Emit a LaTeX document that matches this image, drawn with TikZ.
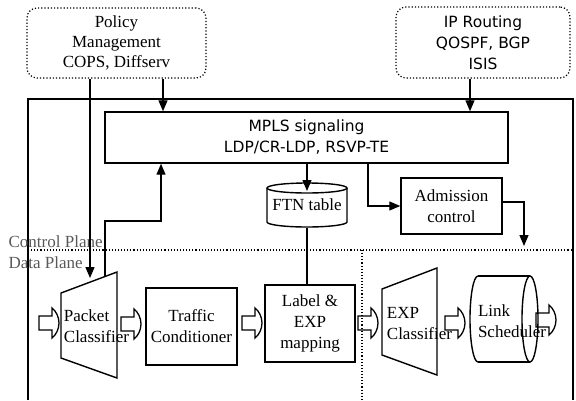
\documentclass[tikz,border=0pt]{standalone}
\usepackage{fontspec}
\setmainfont{Liberation Serif}
\newfontfamily\seriff{Liberation Serif}
\newfontfamily\sansf{DejaVu Sans}
\usetikzlibrary{arrows.meta,calc}
\newcommand\hollowarrow[2]{\draw[hol,shift={(#1,#2)}] (0,-7) -- (13,-7) -- (13,-15) .. controls (17,-12) and (20,-6) .. (20,0) .. controls (20,6) and (17,12) .. (13,15) -- (13,7) -- (0,7) -- cycle;}
\begin{document}
\begin{tikzpicture}[x=1pt,y=-1pt,line width=1.3pt,
  serif/.style={font=\seriff\fontsize{17}{21}\selectfont,align=center,inner sep=0pt},
  sans/.style={font=\sansf\fontsize{15.5}{21}\selectfont,align=center,inner sep=0pt},
  cloud/.style={draw,dotted,rounded corners=10pt,line width=1.2pt},
  box/.style={draw,line width=1.4pt},
  arr/.style={-{Triangle[length=11pt,width=9pt]},line width=1.3pt},
  plane/.style={dotted,line width=1.1pt},
  hol/.style={draw,line width=1.3pt},
  planetxt/.style={font=\seriff\fontsize{17}{18}\selectfont,text=black!65,inner sep=0pt,anchor=base west}]
\useasboundingbox (0,0) rectangle (576,400);

% outer frame
\draw[line width=1.8pt] (28,400) -- (28,99) -- (573,99) -- (573,400);

% top clouds
\node[cloud,serif,font=\seriff\fontsize{17}{20}\selectfont,minimum width=179pt,minimum height=70pt] (policy) at (116.5,43) {Policy\\Management\\COPS, Diffserv};
\node[cloud,sans,minimum width=174pt,minimum height=71pt] (iprt) at (483,42.5) {IP Routing\\QOSPF, BGP\\ISIS};

% MPLS signaling
\node[box,sans,minimum width=403pt,minimum height=51pt] (mpls) at (306.5,137.5) {MPLS signaling\\LDP/CR-LDP, RSVP-TE};

% FTN table cylinder
\node[serif,minimum width=80pt,minimum height=44pt] (ftn) at (307,205) {FTN table};
\draw[box] (307,188) ellipse [x radius=40pt,y radius=5pt];
\draw[box] (267,188) -- (267,222) arc[start angle=180,end angle=360,x radius=40pt,y radius=5pt] -- (347,188);
\coordinate (ftntop) at (307,191);

% Admission control
\node[box,serif,minimum width=101pt,minimum height=56pt] (adm) at (451.5,206) {Admission\\control};
\coordinate (admdn) at (524,246);

% plane separators
\draw[plane] (28,250) -- (573,250);
\draw[plane] (362,250) -- (362,400);
\node[planetxt] (cp) at (8,247) {Control Plane};
\node[planetxt] (dp) at (8,268) {Data Plane};

% Packet classifier
\draw[box] (61,293) -- (117,272) -- (117,378) -- (61,358) -- cycle;
\node[serif,align=left] (pc) at (96.5,326) {Packet\\Classifier};
\coordinate (pctop) at (90,278);
\coordinate (pcup) at (105,276.5);

% Traffic conditioner
\node[box,serif,minimum width=91pt,minimum height=77pt] (tc) at (191.5,326.5) {Traffic\\Conditioner};

% Label & EXP mapping
\node[box,serif,minimum width=90pt,minimum height=77pt] (lab) at (310,323.5) {Label \&\\EXP\\mapping};

% EXP classifier
\draw[box] (382,289) -- (437,268) -- (437,375) -- (382,355) -- cycle;
\node[serif,align=left] (ec) at (419.5,324) {EXP\\Classifier};

% Link scheduler
\draw[box] (478,276) -- (530,276);
\draw[box] (478,362) -- (530,362);
\draw[box] (530,319) ellipse [x radius=8pt,y radius=43pt];
\draw[box] (478,276) arc[start angle=90,end angle=270,x radius=8pt,y radius=43pt];
\node[serif,align=left] (ls) at (512,321) {Link\\Scheduler};

% hollow arrows
\hollowarrow{39}{323}
\hollowarrow{121}{324}
\hollowarrow{242}{323}
\hollowarrow{358}{323}
\hollowarrow{445}{323}
\hollowarrow{536}{320}

% connectors
\draw[arr] ([xshift=46.5pt]policy.south) -- ([xshift=46.5pt]policy.south |- mpls.north);
\draw[arr] ([xshift=-13pt]iprt.south) -- ([xshift=-13pt]iprt.south |- mpls.north);
\draw[arr] (pctop |- policy.south) -- (pctop);
\draw[arr] (pcup) -- (105,221) -- (161,221) -- (161,0 |- mpls.south);
\draw[arr] (ftntop |- mpls.south) -- (ftntop);
\draw[arr] (368,0 |- mpls.south) |- (adm.west);
\draw[arr] ([yshift=4pt]adm.east) -| (admdn);
\draw (ftn.south) -- (ftn.south |- lab.north);
\end{tikzpicture}
\end{document}
